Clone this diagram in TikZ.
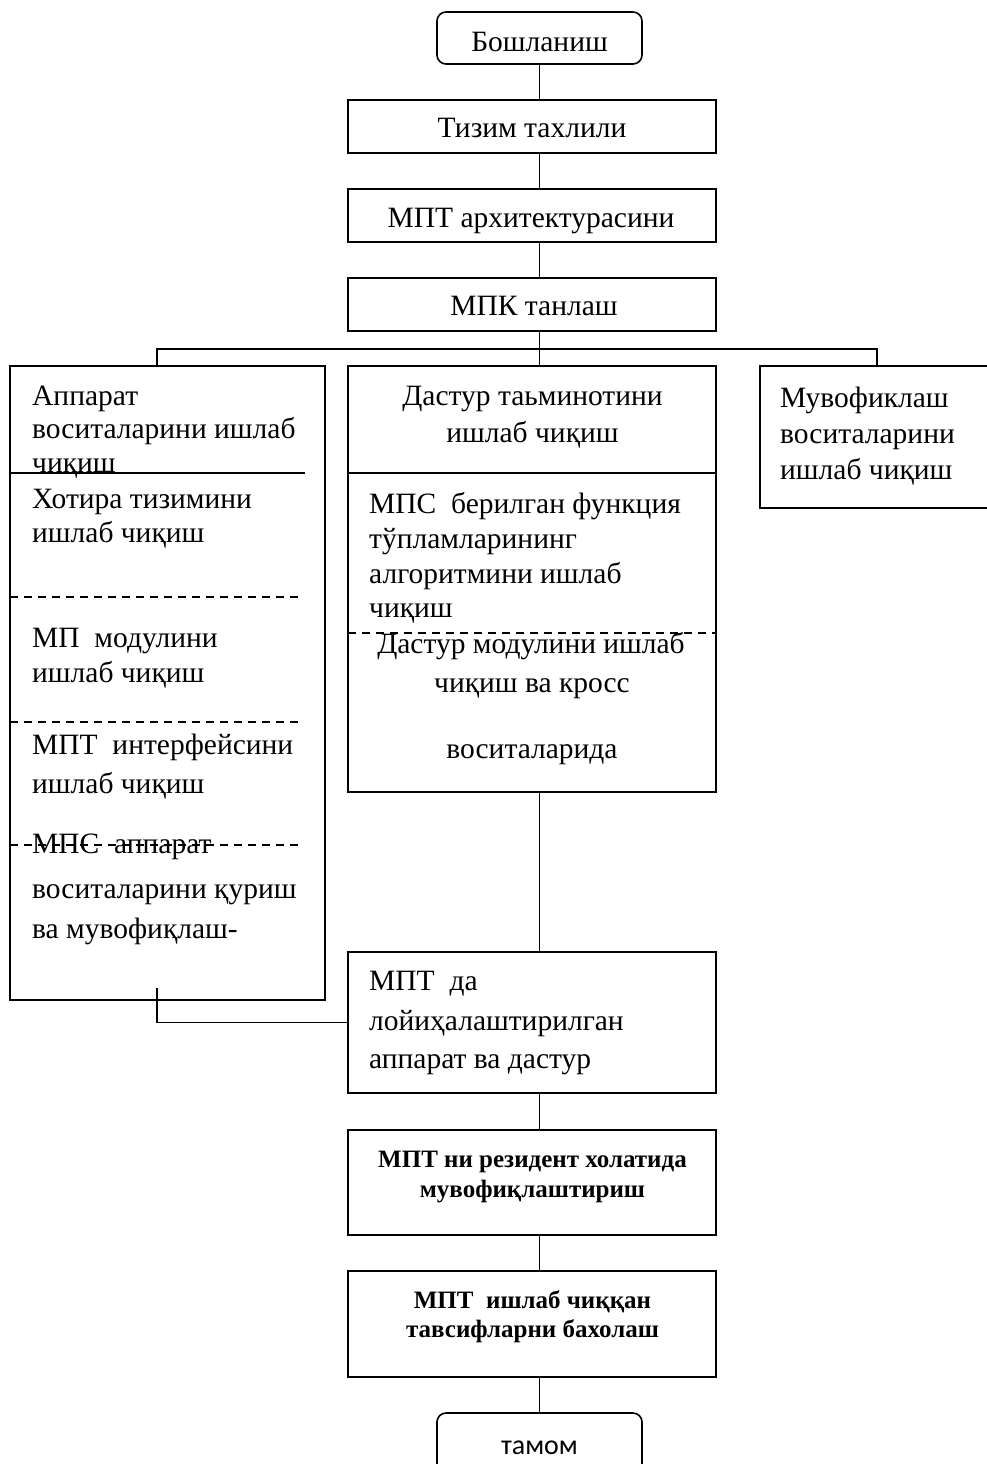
\documentclass[tikz,border=0pt]{standalone}
\usepackage{fontspec}
\setmainfont{Liberation Serif}
\newfontfamily\calibfont{Carlito}
\usetikzlibrary{fit}

\tikzset{
  blk/.style={draw, line width=1.6pt, inner sep=0pt},
  rblk/.style={blk, rounded corners=9pt},
  txt/.style={inner sep=0pt, anchor=base west, font=\fontsize{29.5}{34}\selectfont},
  ctxt/.style={txt, anchor=base},
  btxt/.style={inner sep=0pt, anchor=base, font=\fontsize{25}{29}\selectfont\bfseries},
  link/.style={line width=1.3pt},
  sep/.style={line width=1.3pt, dash pattern=on 8pt off 6pt},
}

\begin{document}
\begin{tikzpicture}[x=1pt, y=-1pt]
        \useasboundingbox (0,0) rectangle (987,1464);
        \clip (0,0) rectangle (987,1464);

        % bloklar
        \node[rblk, fit={(437,12) (642,64)}] (start) {};
        \node[blk, fit={(348,100) (716,153)}] (anal) {};
        \node[blk, fit={(348,189) (716,242)}] (arch) {};
        \node[blk, fit={(348,278) (716,331)}] (mpk) {};
        \node[blk, fit={(10,366) (325,1000)}] (hw) {};
        \node[blk, fit={(348,366) (716,792)}] (sw) {};
        \node[blk, fit={(760,366) (990,508)}] (sync) {};
        \node[blk, fit={(348,952) (716,1093)}] (integ) {};
        \node[blk, fit={(348,1130) (716,1235)}] (resid) {};
        \node[blk, fit={(348,1271) (716,1377)}] (eval) {};
        \node[rblk, fit={(437,1413) (642,1495)}] (finish) {};

        % ichki chiziqlar
        \draw[link] (10,473) -- (305,473);
        \draw[sep] (10,597) -- (300,597);
        \draw[sep] (10,722) -- (300,722);
        \draw[sep] (10,845) -- (300,845);
        \draw[link] (348,473) -- (716,473);
        \draw[sep] (348,633) -- (716,633);

        % matnlar
        \node[ctxt] (startlbl) at (539.5,52) {Бошланиш};
        \node[ctxt] (anallbl) at (532,137) {Тизим тахлили};
        \node[ctxt] (archlbl) at (531,227) {МПТ архитектурасини};
        \node[ctxt] (mpklbl) at (534,315) {МПК танлаш};

        \foreach \y/\ln [count=\i] in {405/Аппарат, 438/воситаларини ишлаб, 472/чиқиш,
                508/Хотира тизимини, 542/ишлаб чиқиш,
                647/МП\ \ модулини, 682/ишлаб чиқиш,
                754/МПТ\ \ интерфейсини, 793/ишлаб чиқиш,
                853/МПС\ \ аппарат, 898/воситаларини қуриш, 938/ва мувофиқлаш-}
            \node[txt] (hw\i) at (32,\y) {\ln};

        \node[ctxt] (sw1) at (532.5,405) {Дастур таьминотини};
        \node[ctxt] (sw2) at (532.5,442) {ишлаб чиқиш};
        \foreach \y/\ln [count=\i] in {513/МПС\ \ берилган функция, 548/тўпламларининг,
                583/алгоритмини ишлаб, 617/чиқиш}
            \node[txt] (alg\i) at (369,\y) {\ln};
        \node[ctxt] (mod1) at (531,653) {Дастур модулини ишлаб};
        \node[ctxt] (mod2) at (532,692) {чиқиш ва кросс};
        \node[ctxt] (mod3) at (532,758) {воситаларида};

        \foreach \y/\ln [count=\i] in {407/Мувофиклаш, 443/воситаларини, 479/ишлаб чиқиш}
            \node[txt] (sync\i) at (780,\y) {\ln};

        \foreach \y/\ln [count=\i] in {990/МПТ\ \ да, 1030/лойиҳалаштирилган, 1068/аппарат ва дастур}
            \node[txt] (integ\i) at (369,\y) {\ln};

        \node[btxt] (resid1) at (532.5,1167) {МПТ ни резидент холатида};
        \node[btxt] (resid2) at (532.5,1197) {мувофиқлаштириш};
        \node[btxt] (eval1) at (532.5,1308) {МПТ\ \ ишлаб чиққан};
        \node[btxt] (eval2) at (532.5,1337) {тавсифларни бахолаш};

        \node[ctxt, font=\calibfont\fontsize{28}{34}\selectfont] (finlbl) at (539.5,1454) {тамом};

        % bog'lanishlar
        \coordinate (spine) at (539.5,0);
        \coordinate (busL) at (157,349);
        \coordinate (busR) at (877,349);
        \coordinate (hwtail) at (157,988);
        \draw[link] (start.south) -- (anal.north -| spine);
        \draw[link] (anal.south -| spine) -- (arch.north -| spine);
        \draw[link] (arch.south -| spine) -- (mpk.north -| spine);
        \draw[link] (mpk.south -| spine) -- (busL -| spine);
        \draw[link] (hw.north -| busL) -- (busL) -- (busR) -- (sync.north -| busR);
        \draw[link] (busL -| spine) -- (sw.north -| spine);
        \draw[link] (sw.south -| spine) -- (integ.north -| spine);
        \draw[link] (hwtail) |- (integ.west);
        \draw[link] (integ.south -| spine) -- (resid.north -| spine);
        \draw[link] (resid.south -| spine) -- (eval.north -| spine);
        \draw[link] (eval.south -| spine) -- (finish.north -| spine);
\end{tikzpicture}
\end{document}
